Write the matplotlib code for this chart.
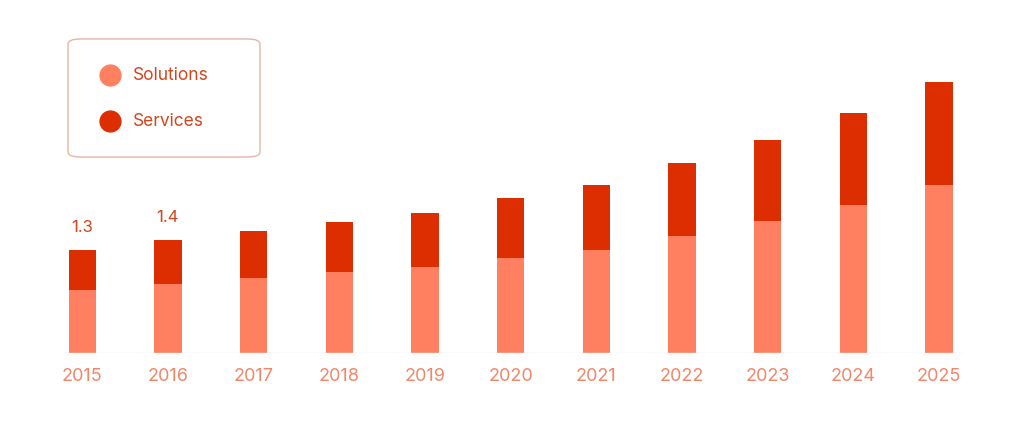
import matplotlib
matplotlib.use("Agg")
import matplotlib.pyplot as plt
from matplotlib.patches import FancyBboxPatch
from matplotlib.lines import Line2D

years = ["2015","2016","2017","2018","2019","2020","2021","2022","2023","2024","2025"]
solutions = [0.80,0.87,0.95,1.02,1.09,1.20,1.30,1.48,1.67,1.87,2.12]
totals = [1.30,1.43,1.54,1.65,1.77,1.96,2.12,2.40,2.69,3.03,3.43]
services = [t-s for t,s in zip(totals,solutions)]
labels = {0:"1.3",1:"1.4"}

c_sol = "#FF7F61"
c_ser = "#DC2E00"
fig = plt.figure(figsize=(10.24,4.27), dpi=100)
ax = fig.add_axes([0.0, 0.171, 1.0, 0.782])
x = list(range(len(years)))
ax.bar(x, solutions, width=0.32, color=c_sol)
ax.bar(x, services, bottom=solutions, width=0.32, color=c_ser)
for i,t in labels.items():
    ax.text(i, totals[i]+0.2, t, ha="center", va="bottom", color="#D2461E", fontsize=12, family="Inter")
ax.set_xlim(-0.96, 10.99)
ax.set_ylim(0, 4.22)
ax.axhline(0, color="#eeeeee", lw=1, xmin=0.06, xmax=0.94)
for s in ax.spines.values(): s.set_visible(False)
ax.set_yticks([])
ax.set_xticks(x)
ax.set_xticklabels(years, color="#F0866A", fontsize=13, family="Inter")
ax.tick_params(axis="x", length=0, pad=10)

box = FancyBboxPatch((68/1024, 1-158/427), 192/1024, 118/427, boxstyle="round,pad=0,rounding_size=0.012",
                     transform=fig.transFigure, fc="white", ec="#E8B4A4", lw=1)
fig.add_artist(box)
for yy, col, name in [(76, c_sol, "Solutions"), (122, c_ser, "Services")]:
    fig.add_artist(Line2D([110/1024],[1-yy/427], marker="o", ms=15, color=col, transform=fig.transFigure))
    fig.text(133/1024, 1-yy/427, name, color="#D2461E", fontsize=12.5, va="center", family="Inter")
fig.savefig("out.png", dpi=100, facecolor="white")
